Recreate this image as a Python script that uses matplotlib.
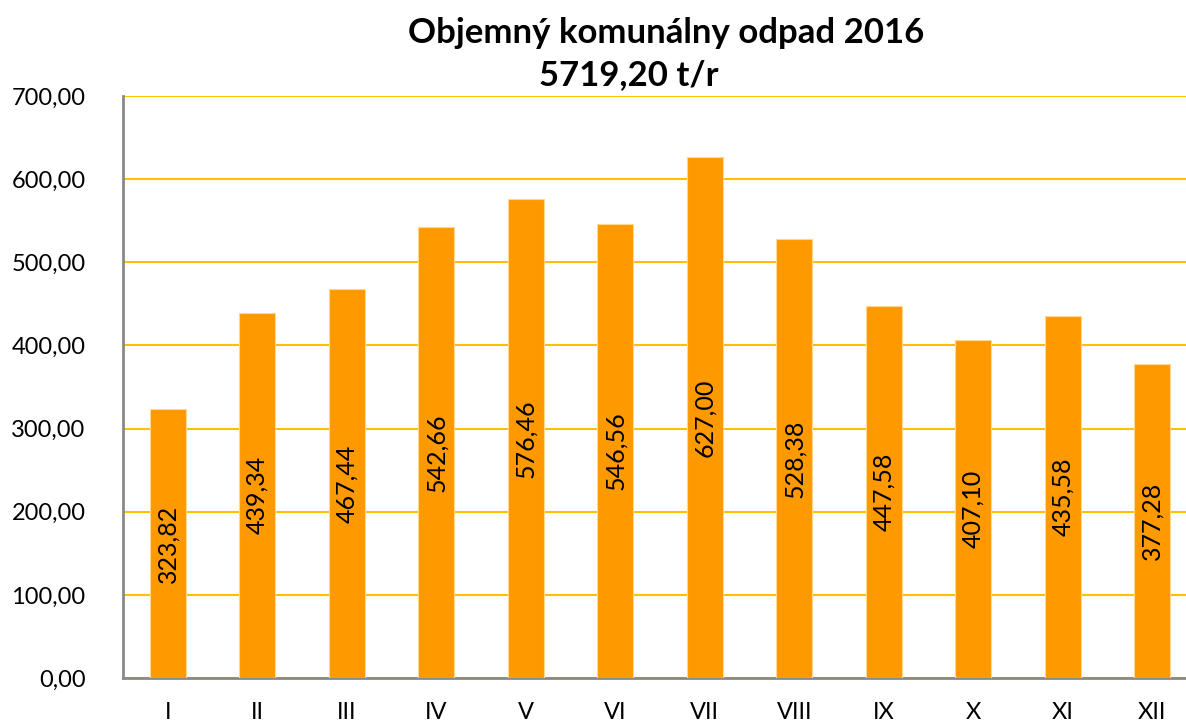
import matplotlib
matplotlib.use('Agg')
import matplotlib.pyplot as plt
from matplotlib.ticker import FuncFormatter

months = ['I', 'II', 'III', 'IV', 'V', 'VI', 'VII', 'VIII', 'IX', 'X', 'XI', 'XII']
values = [323.82, 439.34, 467.44, 542.66, 576.46, 546.56, 627.00, 528.38, 447.58, 407.10, 435.58, 377.28]
title1 = 'Objemný komunálny odpad 2016'
title2 = '5719,20 t/r'

plt.rcParams['font.family'] = ['Lato', 'DejaVu Sans']

def comma(v, pos=None):
	return ('%.2f' % v).replace('.', ',')

fig = plt.figure(figsize=(11.86, 7.22), dpi=100)
ax = fig.add_axes([123/1186, 1 - 678/722, (1186-123)/1186, (678-96)/722])

x = list(range(len(months)))
bars = ax.bar(x, values, width=0.4, color='#FF9900', edgecolor='#FFD890', linewidth=0.8, zorder=3)

for b, v in zip(bars, values):
	ax.text(b.get_x() + b.get_width()/2, v/2, comma(v), rotation=90,
		ha='center', va='center', fontsize=18, color='black', zorder=4)

ax.set_ylim(0, 700)
ax.set_xlim(-0.5, -0.5 + 1063/89.5)
ax.set_yticks(range(0, 701, 100))
ax.yaxis.set_major_formatter(FuncFormatter(comma))
ax.set_xticks(x)
ax.set_xticklabels(months)
ax.tick_params(axis='y', length=0, pad=27, labelsize=17)
ax.tick_params(axis='x', length=0, pad=17, labelsize=17)
ax.yaxis.grid(True, color='#FFC000', linewidth=1.5, zorder=0)
ax.set_axisbelow(True)

for s in ['top', 'right']:
	ax.spines[s].set_visible(False)
for s in ['left', 'bottom']:
	ax.spines[s].set_color('#898989')
	ax.spines[s].set_linewidth(2)

fig.text(666/1186, 1 - 33/722, title1, ha='center', va='center', fontsize=25, fontweight='bold')
fig.text(629/1186, 1 - 75/722, title2, ha='center', va='center', fontsize=25, fontweight='bold')

fig.savefig('out.png', dpi=100)
